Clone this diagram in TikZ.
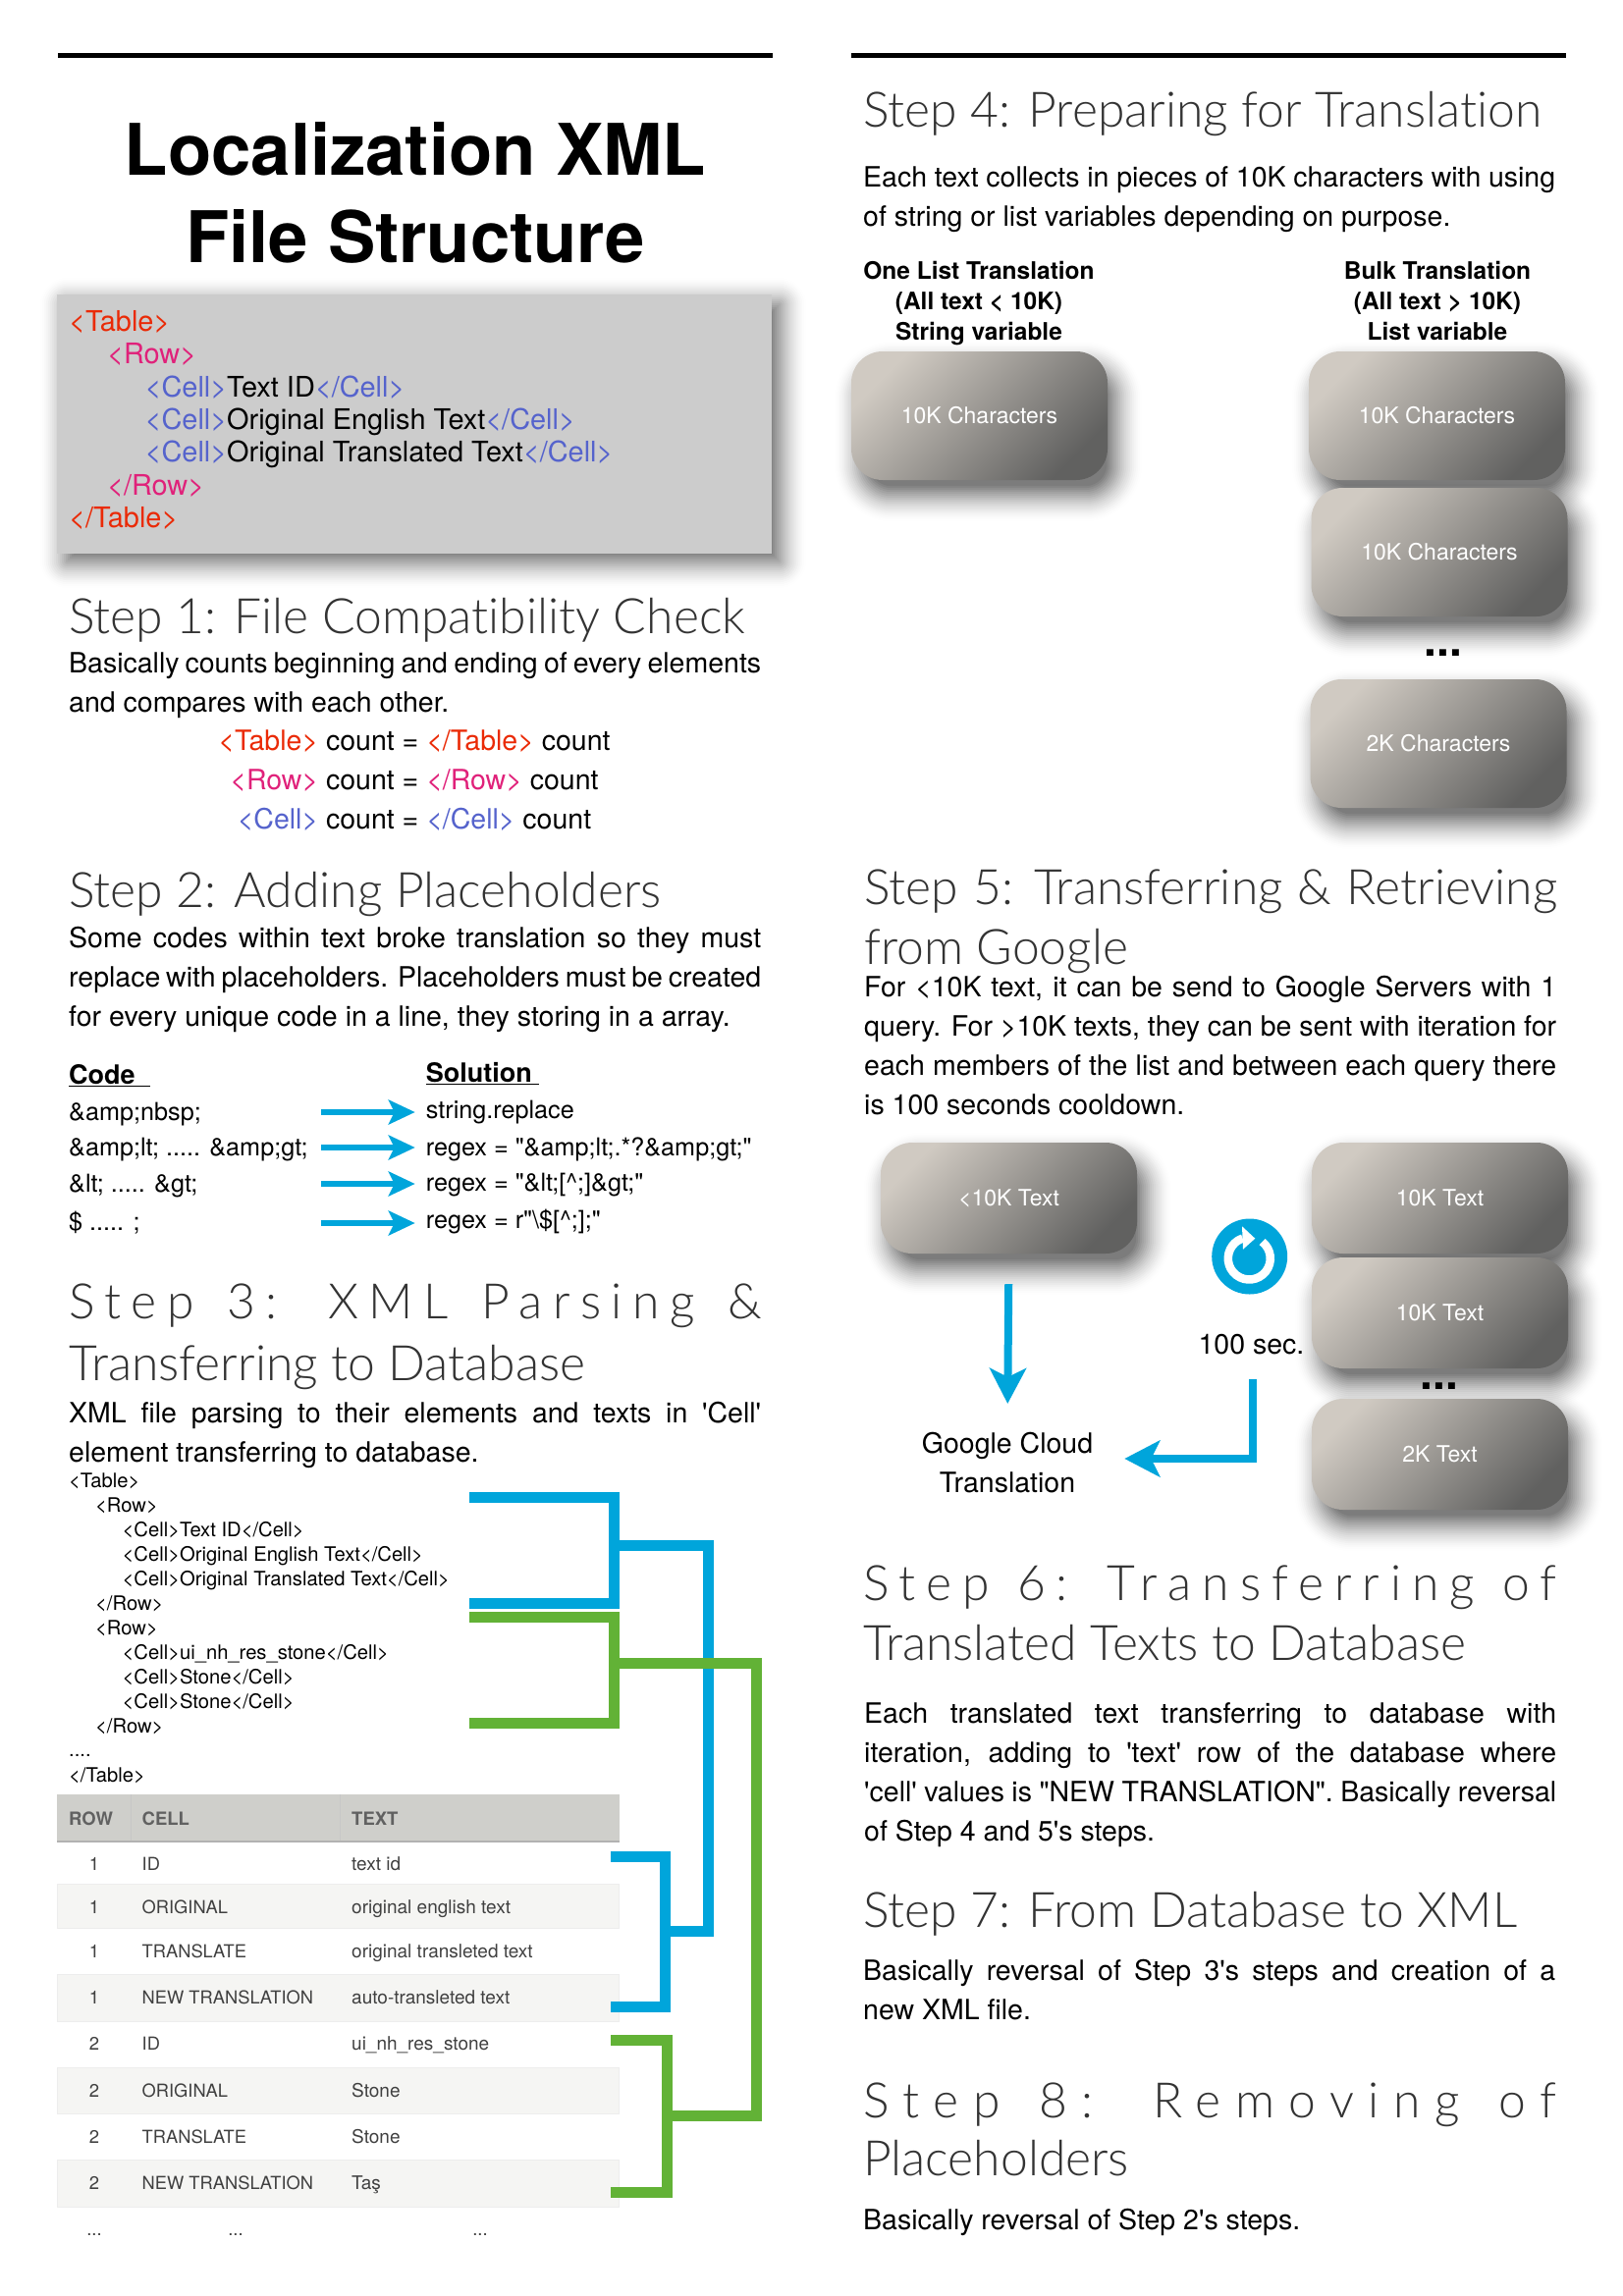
\documentclass[tikz,border=0pt]{standalone}
\usepackage{fontspec}
\usepackage{xcolor}
\usepackage{tikz}
\usetikzlibrary{arrows.meta, positioning, calc, backgrounds}
\setmainfont{TeX Gyre Heros}
\newfontfamily\lightfont{Lato Light}[Ligatures=NoCommon]
\definecolor{tablered}{HTML}{EA2A06}
\definecolor{rowpink}{HTML}{E0217A}
\definecolor{cellblue}{HTML}{5563CC}
\definecolor{barblue}{HTML}{00A5DB}
\definecolor{bargreen}{HTML}{62B236}
\definecolor{boxlight}{HTML}{D0CAC2}
\definecolor{boxdark}{HTML}{616160}
\definecolor{headgray}{HTML}{CFCFCB}
\definecolor{stripegray}{HTML}{F5F5F3}
\newcommand{\tagT}[1]{\textcolor{tablered}{#1}}
\newcommand{\tagR}[1]{\textcolor{rowpink}{#1}}
\newcommand{\tagC}[1]{\textcolor{cellblue}{#1}}
\newcommand{\bodyfont}{\fontsize{28.5}{40}\selectfont}
\newcommand{\spaced}[1]{\makebox[706pt][s]{#1}}
\newcommand{\softshadow}[4]{%
  \begin{pgfonlayer}{background}
  \foreach \g [evaluate=\g as \c using {max(\g+#2,1)}, evaluate=\g as \o using {0.004+0.0018*(26-\g)}] in {26,24,...,-10}
    \fill[black, opacity=\o, rounded corners=\c pt] ([shift={(#3-\g,#4-\g)}]#1.north west) rectangle ([shift={(#3+\g,#4+\g)}]#1.south east);
  \end{pgfonlayer}}

\begin{document}
\begin{tikzpicture}[
    x=1pt, y=-1pt,
    rulebar/.style={line width=5pt, color=black},
    heading/.style={anchor=base west, inner sep=0, font=\lightfont\fontsize{49.8}{60}\selectfont, color=black!80},
    wideheading/.style={heading, font=\lightfont\fontsize{49.8}{60}\selectfont\addfontfeature{LetterSpace=#1}},
    para/.style={anchor=north west, inner sep=0, text width=705pt, align=justify, font=\bodyfont},
    line/.style={anchor=base, inner sep=0, font=\bodyfont},
    xmlbig/.style={anchor=base west, inner sep=0, font=\fontsize{28.9}{32}\selectfont},
    xmlsmall/.style={anchor=base west, inner sep=0, font=\fontsize{20.2}{24}\selectfont},
    codeline/.style={anchor=base west, inner sep=0, font=\fontsize{25.2}{30}\selectfont},
    codehead/.style={anchor=base west, inner sep=0, font=\fontsize{27}{32}\selectfont\bfseries},
    listhead/.style={anchor=base, inner sep=0, align=center, font=\fontsize{24.5}{31}\selectfont\bfseries},
    box/.style={rectangle, rounded corners=32pt, minimum width=#1, top color=boxlight, bottom color=boxdark, shading angle=45, inner sep=0, text=white, font=\fontsize{23}{28}\selectfont},
    tallbox/.style={box=261pt, minimum height=131pt},
    lowbox/.style={box=261pt, minimum height=113pt},
    dots/.style={anchor=base, inner sep=0, font=\fontsize{46}{50}\selectfont\bfseries},
    arrow/.style={-{Stealth[length=27pt, width=25pt, inset=6pt]}, line width=6pt, color=barblue},
    bigarrow/.style={-{Stealth[length=36pt, width=37pt, inset=9pt]}, line width=8pt, color=barblue},
    bluebar/.style={line width=11pt, color=barblue, miter limit=10},
    greenbar/.style={line width=11pt, color=bargreen, miter limit=10},
    headcell/.style={anchor=base west, inner sep=0, font=\fontsize{18.5}{22}\selectfont\bfseries, color=black!62},
    cell/.style={anchor=base west, inner sep=0, font=\fontsize{18.3}{22}\selectfont, color=black!75},
    textcell/.style={anchor=base west, inner sep=0, font=\fontsize{19}{22}\selectfont, color=black!75},
    numcell/.style={anchor=base, inner sep=0, font=\fontsize{18.5}{22}\selectfont, color=black!75},
    stripe/.style={fill=stripegray, draw=black!7, line width=1pt}
]
\useasboundingbox (0,0) rectangle (1653,2339);

% Rules and title
\draw[rulebar] (59,57) -- (787,57);
\draw[rulebar] (867,57) -- (1595,57);
\node[inner sep=0, align=center, font=\fontsize{72.5}{89}\selectfont\bfseries] (title) at (423,196) {Localization XML\\File Structure};

% Structure box
\node[rectangle, fill=black!20, minimum width=728pt, minimum height=264pt, inner sep=0] (xmlbox) at (422,432) {};
\softshadow{xmlbox}{2}{9}{9}
\node[xmlbig] (bt1) at (70,337) {\tagT{<Table>}};
\node[xmlbig] (bt2) at (109,370.7) {\tagR{<Row>}};
\node[xmlbig] (bt3) at (147.5,404) {\tagC{<Cell>}Text ID\tagC{</Cell>}};
\node[xmlbig] (bt4) at (147.5,437) {\tagC{<Cell>}Original English Text\tagC{</Cell>}};
\node[xmlbig] (bt5) at (147.5,470.7) {\tagC{<Cell>}Original Translated Text\tagC{</Cell>}};
\node[xmlbig] (bt6) at (109,504) {\tagR{</Row>}};
\node[xmlbig] (bt7) at (70,537) {\tagT{</Table>}};

% Step 1
\node[heading] (step1) at (70,645) {Step 1: File Compatibility Check};
\node[para] (body1) at (70,657.5) {\strut Basically counts beginning and ending of every elements\linebreak and compares with each other.};
\node[line] (count1) at (422,764) {\tagT{<Table>} count = \tagT{</Table>} count};
\node[line] (count2) at (422,804) {\tagR{<Row>} count = \tagR{</Row>} count};
\node[line] (count3) at (422,844) {\tagC{<Cell>} count = \tagC{</Cell>} count};

% Step 2
\node[heading] (step2) at (70,924) {Step 2: Adding Placeholders};
\node[para] (body2) at (70,937.5) {\strut Some codes within text broke translation so they must\linebreak replace with placeholders. Placeholders must be created\linebreak for every unique code in a line, they storing in a array.};

\node[codehead] (codehead) at (70,1104) {\underline{Code\ \ }};
\node[codehead] (solhead) at (433.7,1102) {\underline{Solution\ }};
\node[codeline] (code1) at (70,1141) {\&amp;nbsp;};
\node[codeline] (code2) at (70,1177) {\&amp;lt; ..... \&amp;gt;};
\node[codeline] (code3) at (70,1214) {\&lt; ..... \&gt;};
\node[codeline] (code4) at (70,1253) {\$ ..... ;};
\node[codeline] (sol1) at (433.7,1139) {string.replace};
\node[codeline] (sol2) at (433.7,1177) {regex = \textquotedbl\&amp;lt;.*?\&amp;gt;\textquotedbl};
\node[codeline] (sol3) at (433.7,1213) {regex = \textquotedbl\&lt;[\textasciicircum;]\&gt;\textquotedbl};
\node[codeline] (sol4) at (433.7,1251) {regex = r\textquotedbl\textbackslash\$[\textasciicircum;];\textquotedbl};
\coordinate (a1) at (327,1133);
\coordinate (a2) at (327,1169);
\coordinate (a3) at (327,1206);
\coordinate (a4) at (327,1246);
\draw[arrow, shorten >=11pt] (a1) -- (a1 -| sol1.west);
\draw[arrow, shorten >=11pt] (a2) -- (a2 -| sol2.west);
\draw[arrow, shorten >=11pt] (a3) -- (a3 -| sol3.west);
\draw[arrow, shorten >=11pt] (a4) -- (a4 -| sol4.west);

% Step 3
\node[wideheading=21] (step3a) at (70,1343) {\makebox[706pt][s]{Step 3: XML Parsing \&}};
\node[heading] (step3b) at (70,1406) {Transferring to Database};
\node[para] (body3) at (70,1421.5) {\strut XML file parsing to their elements and texts in \textquotesingle Cell\textquotesingle\linebreak element transferring to database.};

\node[xmlsmall] (x1) at (70,1515) {<Table>};
\node[xmlsmall] (x2) at (97,1540) {<Row>};
\node[xmlsmall] (x3) at (124.5,1565) {<Cell>Text ID</Cell>};
\node[xmlsmall] (x4) at (124.5,1590) {<Cell>Original English Text</Cell>};
\node[xmlsmall] (x5) at (124.5,1615) {<Cell>Original Translated Text</Cell>};
\node[xmlsmall] (x6) at (97,1640) {</Row>};
\node[xmlsmall] (x7) at (97,1665) {<Row>};
\node[xmlsmall] (x8) at (124.5,1690) {<Cell>ui\_nh\_res\_stone</Cell>};
\node[xmlsmall] (x9) at (124.5,1715) {<Cell>Stone</Cell>};
\node[xmlsmall] (x10) at (124.5,1740) {<Cell>Stone</Cell>};
\node[xmlsmall] (x11) at (97,1765) {</Row>};
\node[xmlsmall] (x12) at (70,1789) {....};
\node[xmlsmall] (x13) at (70,1815) {</Table>};

% Database table
\fill[headgray] (58.4,1827.7) rectangle (630.5,1875);
\draw[black!30, line width=2pt] (58.4,1876) -- (630.5,1876);
\draw[black!22, line width=1pt] (133,1827.7) -- (133,1875);
\draw[black!22, line width=1pt] (346,1827.7) -- (346,1875);
\draw[stripe] (58.4,1919) rectangle (630.5,1964);
\draw[stripe] (58.4,2011) rectangle (630.5,2059);
\draw[stripe] (58.4,2106) rectangle (630.5,2153);
\draw[stripe] (58.4,2200) rectangle (630.5,2248);
\node[headcell] (hrow) at (70,1859) {ROW};
\node[headcell] (hcell) at (144.5,1859) {CELL};
\node[headcell] (htext) at (358,1859) {TEXT};
\node[numcell] (r1) at (96,1905) {1};
\node[cell] (c1) at (144.5,1905) {ID};
\node[textcell] (t1) at (358,1905) {text id};
\node[numcell] (r2) at (96,1949) {1};
\node[cell] (c2) at (144.5,1949) {ORIGINAL};
\node[textcell] (t2) at (358,1949) {original english text};
\node[numcell] (r3) at (96,1994) {1};
\node[cell] (c3) at (144.5,1994) {TRANSLATE};
\node[textcell] (t3) at (358,1994) {original transleted text};
\node[numcell] (r4) at (96,2041) {1};
\node[cell] (c4) at (144.5,2041) {NEW TRANSLATION};
\node[textcell] (t4) at (358,2041) {auto-transleted text};
\node[numcell] (r5) at (96,2088) {2};
\node[cell] (c5) at (144.5,2088) {ID};
\node[textcell] (t5) at (358,2088) {ui\_nh\_res\_stone};
\node[numcell] (r6) at (96,2136) {2};
\node[cell] (c6) at (144.5,2136) {ORIGINAL};
\node[textcell] (t6) at (358,2136) {Stone};
\node[numcell] (r7) at (96,2183) {2};
\node[cell] (c7) at (144.5,2183) {TRANSLATE};
\node[textcell] (t7) at (358,2183) {Stone};
\node[numcell] (r8) at (96,2230) {2};
\node[cell] (c8) at (144.5,2230) {NEW TRANSLATION};
\node[textcell] (t8) at (358,2230) {Taş};
\node[numcell] (r9) at (96,2277) {...};
\node[numcell] (c9) at (240,2277) {...};
\node[numcell] (t9) at (489,2277) {...};

% Brackets between file and table
\coordinate (bx1) at (478,1525.5);
\coordinate (bx2) at (625,1525.5);
\coordinate (bx3) at (625,1633.5);
\coordinate (bx4) at (478,1633.5);
\coordinate (bm1) at (625,1574.7);
\coordinate (bm2) at (721,1574.7);
\coordinate (bm3) at (721,1967);
\coordinate (bm4) at (677.5,1967);
\coordinate (bt1a) at (622,1891.7);
\coordinate (bt2a) at (677.5,1891.7);
\coordinate (bt3a) at (677.5,2044);
\coordinate (bt4a) at (622,2044);
\coordinate (gx1) at (478,1647);
\coordinate (gx2) at (625,1647);
\coordinate (gx3) at (625,1755.5);
\coordinate (gx4) at (478,1755.5);
\coordinate (gm1) at (625,1694.5);
\coordinate (gm2) at (770.5,1694.5);
\coordinate (gm3) at (770.5,2155);
\coordinate (gm4) at (679,2155);
\coordinate (gt1a) at (622,2078);
\coordinate (gt2a) at (679,2078);
\coordinate (gt3a) at (679,2233.5);
\coordinate (gt4a) at (622,2233.5);
\draw[bluebar] (bx1) -- (bx2) -- (bx3) -- (bx4);
\draw[bluebar] (bm1) -- (bm2) -- (bm3) -- (bm4);
\draw[bluebar] (bt1a) -- (bt2a) -- (bt3a) -- (bt4a);
\draw[greenbar] (gx1) -- (gx2) -- (gx3) -- (gx4);
\draw[greenbar] (gm1) -- (gm2) -- (gm3) -- (gm4);
\draw[greenbar] (gt1a) -- (gt2a) -- (gt3a) -- (gt4a);

% Step 4
\node[heading] (step4) at (879,130) {Step 4: Preparing for Translation};
\node[para] (body4) at (879,162.5) {\strut Each text collects in pieces of 10K characters with using\linebreak of string or list variables depending on purpose.};
\node[listhead] (onelist) at (997,346) {One List Translation\\(All text < 10K)\\String variable};
\node[listhead] (bulklist) at (1464,346) {Bulk Translation\\(All text > 10K)\\List variable};
\node[tallbox] (chars1) at (997.5,423.5) {10K Characters};
\node[tallbox] (chars2) at (1463.5,423.5) {10K Characters};
\node[tallbox] (chars3) at (1466,562.5) {10K Characters};
\node[tallbox] (chars4) at (1465,757.5) {2K Characters};
\softshadow{chars1}{32}{9}{16}
\softshadow{chars2}{32}{9}{16}
\softshadow{chars3}{32}{9}{16}
\softshadow{chars4}{32}{9}{16}
\node[dots] (dotsa) at (1470,668) {...};

% Step 5
\node[heading] (step5a) at (880,921) {\spaced{Step 5: Transferring \& Retrieving}};
\node[heading] (step5b) at (880,982) {from Google};
\node[para] (body5) at (880,987.5) {\strut For <10K text, it can be send to Google Servers with 1\linebreak query. For >10K texts, they can be sent with iteration for\linebreak each members of the list and between each query there\linebreak is 100 seconds cooldown.};
\node[lowbox] (lesstext) at (1027.5,1220.5) {<10K Text};
\node[lowbox] (text1) at (1466.5,1220.5) {10K Text};
\node[lowbox] (text2) at (1466.5,1337.5) {10K Text};
\node[lowbox] (text3) at (1466.5,1481.5) {2K Text};
\softshadow{lesstext}{32}{9}{16}
\softshadow{text1}{32}{9}{16}
\softshadow{text2}{32}{9}{16}
\softshadow{text3}{32}{9}{16}
\node[dots] (dotsb) at (1466,1415) {...};
\node[inner sep=0, align=center, font=\bodyfont] (google) at (1026,1490) {Google Cloud\\Translation};
\node[circle, fill=barblue, minimum size=77pt, inner sep=0] (cooldown) at (1272.7,1280) {};
\draw[white, line width=8.5pt] ([shift={(52:21.5pt)}]1272.3,1282) arc[start angle=52, end angle=-252, radius=21.5pt];
\fill[white] (1265,1249.3) -- (1278.3,1261.7) -- (1266,1272.7) -- cycle;
\node[inner sep=0, font=\bodyfont] (sec) at (1274.5,1370) {100 sec.};
\draw[bigarrow, shorten <=31pt, shorten >=29pt] (lesstext.south) -- (google.north);
\draw[bigarrow, shorten <=24pt, shorten >=32pt] ([xshift=1.5pt]sec.south) |- ([yshift=4pt]google.east);

% Step 6
\node[wideheading=22] (step6a) at (879,1630) {\spaced{Step 6: Transferring of}};
\node[heading] (step6b) at (879,1691) {Translated Texts to Database};
\node[para] (body6) at (880,1727.5) {\strut Each translated text transferring to database with\linebreak iteration, adding to \textquotesingle text\textquotesingle{} row of the database where\linebreak \textquotesingle cell\textquotesingle{} values is \textquotedbl NEW TRANSLATION\textquotedbl. Basically reversal\linebreak of Step 4 and 5\textquotesingle s steps.};

% Step 7
\node[heading] (step7) at (879,1963) {Step 7: From Database to XML};
\node[para] (body7) at (879,1989.5) {\strut Basically reversal of Step 3\textquotesingle s steps and creation of a\linebreak new XML file.};

% Step 8
\node[wideheading=29] (step8a) at (879,2157) {\spaced{Step 8: Removing of}};
\node[heading] (step8b) at (879,2216) {Placeholders};
\node[para] (body8) at (879,2243.5) {\strut Basically reversal of Step 2\textquotesingle s steps.};

\end{tikzpicture}
\end{document}
